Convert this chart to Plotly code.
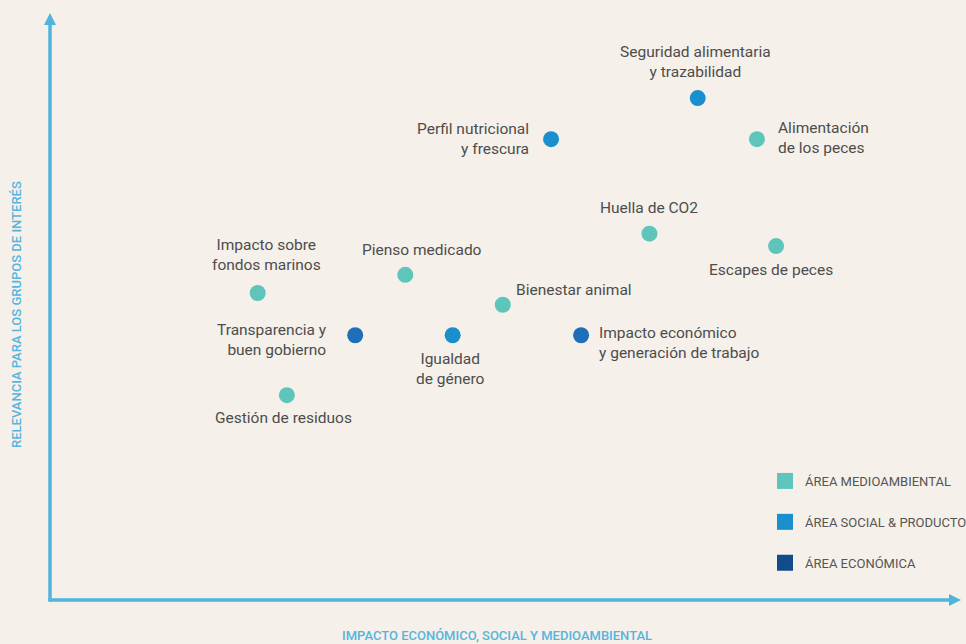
import plotly.graph_objects as go

# ---- data ----
temas = [
    "Seguridad alimentaria<br>y trazabilidad",
    "Perfil nutricional<br>y frescura",
    "Alimentación<br>de los peces",
    "Huella de CO2",
    "Escapes de peces",
    "Impacto sobre<br>fondos marinos",
    "Pienso medicado",
    "Bienestar animal",
    "Transparencia y<br>buen gobierno",
    "Igualdad<br>de género",
    "Impacto económico<br>y generación de trabajo",
    "Gestión de residuos",
]
impacto = [7.11, 5.50, 7.76, 6.58, 7.97, 2.28, 3.90, 4.97, 3.35, 4.42, 5.83, 2.60]
relevancia = [8.55, 7.85, 7.85, 6.24, 6.03, 5.23, 5.54, 5.03, 4.51, 4.51, 4.51, 3.49]
area = ["social", "social", "medio", "medio", "medio", "medio", "medio",
        "medio", "eco", "social", "eco", "medio"]

areas = ["medio", "social", "eco"]
area_nombres = {"medio": "ÁREA MEDIOAMBIENTAL",
                "social": "ÁREA SOCIAL & PRODUCTO",
                "eco": "ÁREA ECONÓMICA"}

# ---- styles ----
punto_color = {"medio": "#5ec5ba", "social": "#1a8fcd", "eco": "#1f6fb8"}
leyenda_color = {"medio": "#5ec5ba", "social": "#1a8fcd", "eco": "#0f4c89"}
# label placement: (xanchor, xshift, yshift, align)
etiqueta_pos = [
    ("center", -2, 36, "center"),
    ("right", -20, 0, "right"),
    ("left", 19, 1.5, "left"),
    ("center", 0, 26, "center"),
    ("center", -5, -24, "center"),
    ("center", 9, 38, "center"),
    ("center", 17, 25, "center"),
    ("left", 11, 15, "left"),
    ("right", -26, -5, "right"),
    ("center", -2, -34, "center"),
    ("left", 16, -8, "left"),
    ("center", -3, -23, "center"),
]
BG = "#f5f0e9"
AXIS = "#4fb5dd"
TEXT = "#4d4d4d"
FONT = "Roboto"

fig = go.Figure()

for a in areas:
    idx = [i for i, v in enumerate(area) if v == a]
    fig.add_trace(go.Scatter(
        x=[impacto[i] for i in idx],
        y=[relevancia[i] for i in idx],
        mode="markers",
        marker=dict(size=16, color=punto_color[a], line=dict(width=0)),
        showlegend=False,
        hoverinfo="skip",
    ))

for a in areas:
    fig.add_trace(go.Scatter(
        x=[None], y=[None], mode="markers", name=area_nombres[a],
        legendgroup=a,
        marker=dict(size=17, symbol="square", color=leyenda_color[a]),
    ))

for t, xv, yv, (xa, dx, dy, al) in zip(temas, impacto, relevancia, etiqueta_pos):
    fig.add_annotation(
        x=xv, y=yv, xref="x", yref="y", text=t, showarrow=False,
        xanchor=xa, yanchor="middle", xshift=dx, yshift=dy, align=al,
        font=dict(family=FONT, size=15.5, color=TEXT),
    )

PW, PH = 911.0, 587.0
# axis arrows
fig.add_shape(type="line", xref="paper", yref="paper",
              x0=0, x1=0, y0=-1.5 / PH, y1=1 - 11 / PH,
              line=dict(color=AXIS, width=3.5))
fig.add_shape(type="path", xref="paper", yref="paper",
              path=f"M 0 1 L {-6/PW} {1-12/PH} L {6/PW} {1-12/PH} Z",
              fillcolor=AXIS, line=dict(width=0))
fig.add_shape(type="line", xref="paper", yref="paper",
              x0=-1.5 / PW, x1=1 - 11 / PW, y0=0, y1=0,
              line=dict(color=AXIS, width=3.5))
fig.add_shape(type="path", xref="paper", yref="paper",
              path=f"M 1 0 L {1-12/PW} {6/PH} L {1-12/PW} {-6/PH} Z",
              fillcolor=AXIS, line=dict(width=0))

# axis titles
fig.add_annotation(x=(497 - 50) / PW, y=0, xref="paper", yref="paper",
                   yshift=-35, showarrow=False, xanchor="center", yanchor="middle",
                   text="IMPACTO ECONÓMICO, SOCIAL Y MEDIOAMBIENTAL",
                   font=dict(family=FONT, size=13, color="#55b5de", weight=500))
fig.add_annotation(x=0, y=(600 - 315) / PH, xref="paper", yref="paper",
                   xshift=-34, showarrow=False, textangle=-90,
                   xanchor="center", yanchor="middle",
                   text="RELEVANCIA PARA LOS GRUPOS DE INTERÉS",
                   font=dict(family=FONT, size=13, color="#55b5de", weight=500))

fig.update_xaxes(range=[0, 10], visible=False, fixedrange=True)
fig.update_yaxes(range=[0, 10], visible=False, fixedrange=True)
fig.update_layout(
    width=966, height=644,
    margin=dict(l=50, r=5, t=13, b=44, autoexpand=False),
    paper_bgcolor=BG, plot_bgcolor=BG,
    showlegend=True,
    legend=dict(x=(765 - 50) / PW, y=(600 - 466) / PH, xanchor="left", yanchor="top",
                bgcolor="rgba(0,0,0,0)", tracegroupgap=21,
                font=dict(family=FONT, size=13, color="#555555")),
)

fig.write_html("out.html", config={"displayModeBar": False},
               post_script="document.body.style.margin='0';document.body.style.overflow='hidden';")
